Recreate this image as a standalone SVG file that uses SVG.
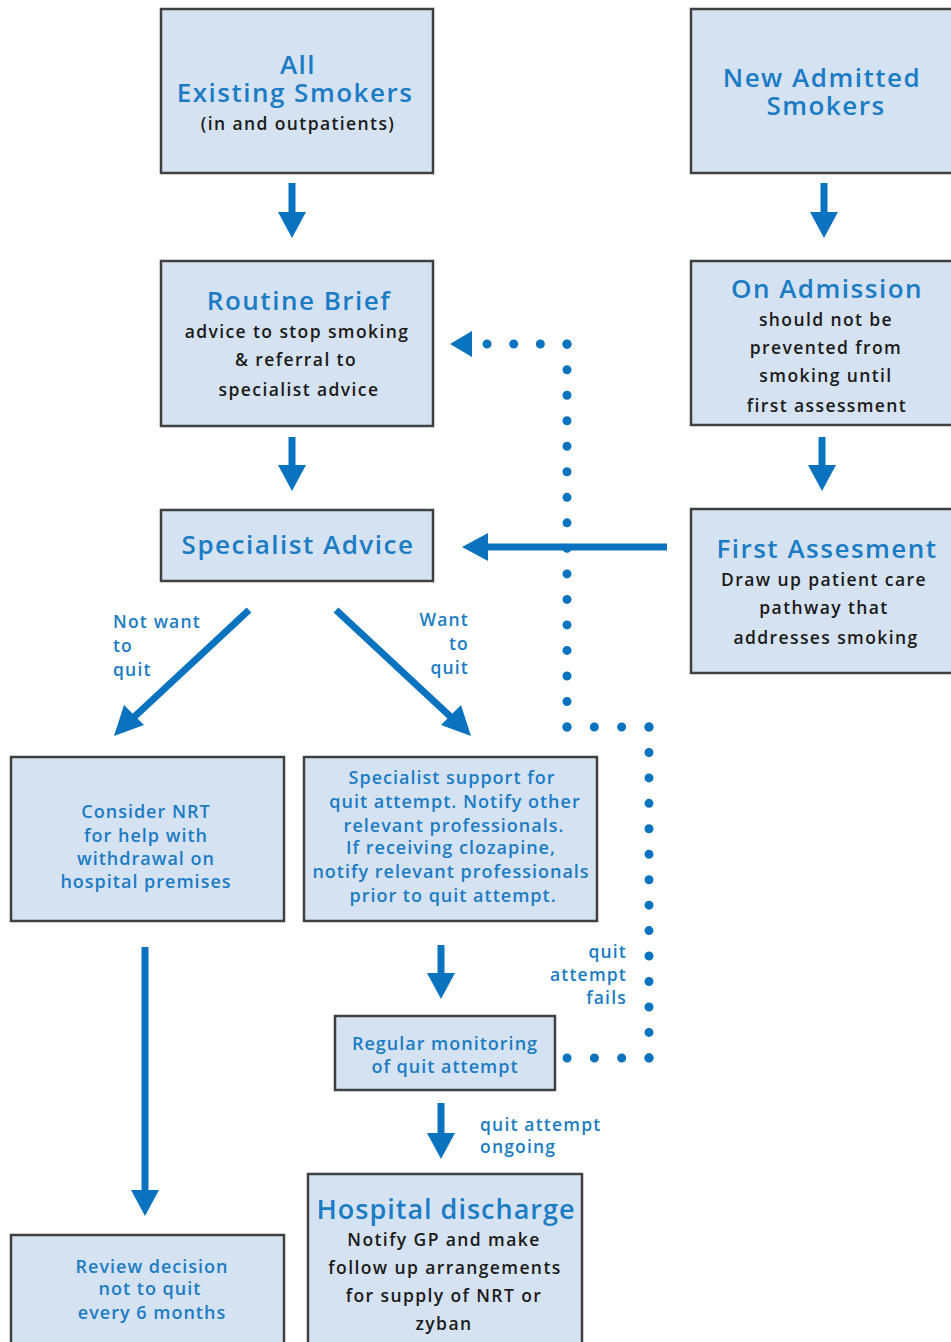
<svg xmlns="http://www.w3.org/2000/svg" width="951" height="1342" viewBox="0 0 951 1342">
<defs>
<style>
.box{fill:#d5e2f1;stroke:#404040;stroke-width:2.5}
.t{font-family:"Open Sans","Noto Sans",sans-serif;font-weight:600;fill:#1a7cc4;text-anchor:middle}
.big{font-size:26px;letter-spacing:1.5px}
.b{font-family:"Open Sans","Noto Sans",sans-serif;font-weight:600;fill:#1a1a1a;text-anchor:middle;font-size:17.5px;letter-spacing:1.4px}
.m{font-family:"Open Sans","Noto Sans",sans-serif;font-weight:600;fill:#1a7cc4;text-anchor:middle;font-size:18px;letter-spacing:1px}
.lbl{font-family:"Open Sans","Noto Sans",sans-serif;font-weight:600;fill:#1a7cc4;font-size:17.5px;letter-spacing:1.2px}
.arr{stroke:#0a73bf;stroke-width:7;fill:none}
.head{fill:#0a73bf}
.dot{stroke:#0a73bf;stroke-width:9;stroke-linecap:round;fill:none}
</style>
</defs>
<rect width="951" height="1342" fill="#fff"/>

<g id="connectors">
<path class="arr" d="M292 183V215"/><path class="head" d="M278 212H306L292 238Z"/>
<path class="arr" d="M824 183V215"/><path class="head" d="M810 212H838L824 238Z"/>
<path class="arr" d="M292 437V468"/><path class="head" d="M278 465H306L292 491Z"/>
<path class="arr" d="M822 437V468"/><path class="head" d="M808 465H836L822 491Z"/>
<path class="arr" d="M667 547H485"/><path class="head" d="M488 533V561L462 547Z"/>
<path class="arr" d="M249 610L132 719"/><path class="head" d="M124 705L144 725L114 736Z"/>
<path class="arr" d="M336 610L453 719"/><path class="head" d="M441 725L461 705L471 736Z"/>
<path class="arr" d="M441 945V976"/><path class="head" d="M427 973H455L441 999Z"/>
<path class="arr" d="M145 947V1194"/><path class="head" d="M131 1190H159L145 1216Z"/>
<path class="arr" d="M441 1103V1136"/><path class="head" d="M427 1133H455L441 1159Z"/>
<path class="dot" d="M567 727V344" stroke-dasharray="0 25.52"/>
<path class="dot" d="M567 344H487" stroke-dasharray="0 26.65"/>
<path class="head" d="M472 331V357L450 344Z"/>
<path class="dot" d="M567 727H649" stroke-dasharray="0 27.32"/>
<path class="dot" d="M649 727V1058" stroke-dasharray="0 25.45"/>
<path class="dot" d="M649 1058H567" stroke-dasharray="0 27.32"/>
<text class="lbl" x="113" y="628">Not want</text>
<text class="lbl" x="113" y="652">to</text>
<text class="lbl" x="113" y="676">quit</text>
<text class="lbl" x="469" y="626" text-anchor="end">Want</text>
<text class="lbl" x="469" y="650" text-anchor="end">to</text>
<text class="lbl" x="469" y="674" text-anchor="end">quit</text>
<text class="lbl" x="627" y="958" text-anchor="end">quit</text>
<text class="lbl" x="627" y="981" text-anchor="end">attempt</text>
<text class="lbl" x="627" y="1004" text-anchor="end">fails</text>
<text class="lbl" x="480" y="1131">quit attempt</text>
<text class="lbl" x="480" y="1153">ongoing</text>
</g>

<g id="all-existing">
<rect class="box" x="161" y="9" width="272" height="164"/>
<text class="t big"><tspan x="298" y="74">All</tspan><tspan x="295" y="102">Existing Smokers</tspan></text>
<text class="b" x="298" y="130">(in and outpatients)</text>
</g>

<g id="new-admitted">
<rect class="box" x="691" y="9" width="270" height="164"/>
<text class="t big"><tspan x="822" y="87">New Admitted</tspan><tspan x="826" y="115">Smokers</tspan></text>
</g>

<g id="routine-brief">
<rect class="box" x="161" y="261" width="272" height="165"/>
<text class="t big" x="299" y="310">Routine Brief</text>
<text class="b" x="297" y="338">advice to stop smoking</text>
<text class="b" x="296" y="366">&amp; referral to</text>
<text class="b" x="299" y="396">specialist advice</text>
</g>

<g id="on-admission">
<rect class="box" x="691" y="261" width="270" height="164"/>
<text class="t big" x="827" y="298">On Admission</text>
<text class="b" x="826" y="326">should not be</text>
<text class="b" x="826" y="354">prevented from</text>
<text class="b" x="826" y="382">smoking until</text>
<text class="b" x="827" y="412">first assessment</text>
</g>

<g id="specialist-advice">
<rect class="box" x="161" y="510" width="272" height="71"/>
<text class="t big" x="298" y="554">Specialist Advice</text>
</g>

<g id="first-assesment">
<rect class="box" x="691" y="509" width="270" height="164"/>
<text class="t big" x="827" y="558">First Assesment</text>
<text class="b" x="824" y="586">Draw up patient care</text>
<text class="b" x="824" y="614">pathway that</text>
<text class="b" x="826" y="644">addresses smoking</text>
</g>

<g id="consider-nrt">
<rect class="box" x="11" y="757" width="273" height="164"/>
<text class="m" x="146" y="818">Consider NRT</text>
<text class="m" x="146" y="842">for help with</text>
<text class="m" x="146" y="865">withdrawal on</text>
<text class="m" x="146" y="888">hospital premises</text>
</g>

<g id="specialist-support">
<rect class="box" x="304" y="757" width="293" height="164"/>
<text class="m" x="452" y="784">Specialist support for</text>
<text class="m" x="455" y="808">quit attempt. Notify other</text>
<text class="m" x="454" y="832">relevant professionals.</text>
<text class="m" x="451" y="854">If receiving clozapine,</text>
<text class="m" x="451" y="878">notify relevant professionals</text>
<text class="m" x="453" y="902">prior to quit attempt.</text>
</g>

<g id="regular-monitoring">
<rect class="box" x="335" y="1016" width="220" height="74"/>
<text class="m" x="445" y="1050">Regular monitoring</text>
<text class="m" x="445" y="1073">of quit attempt</text>
</g>

<g id="review-decision">
<rect class="box" x="11" y="1235" width="273" height="120"/>
<text class="m" x="152" y="1273">Review decision</text>
<text class="m" x="150" y="1295">not to quit</text>
<text class="m" x="152" y="1319">every 6 months</text>
</g>

<g id="hospital-discharge">
<rect class="box" x="308" y="1174" width="274" height="180"/>
<text class="t" x="446" y="1219" font-size="27" letter-spacing="1">Hospital discharge</text>
<text class="b" x="444" y="1246">Notify GP and make</text>
<text class="b" x="445" y="1274">follow up arrangements</text>
<text class="b" x="444" y="1302">for supply of NRT or</text>
<text class="b" x="444" y="1330">zyban</text>
</g>
</svg>
